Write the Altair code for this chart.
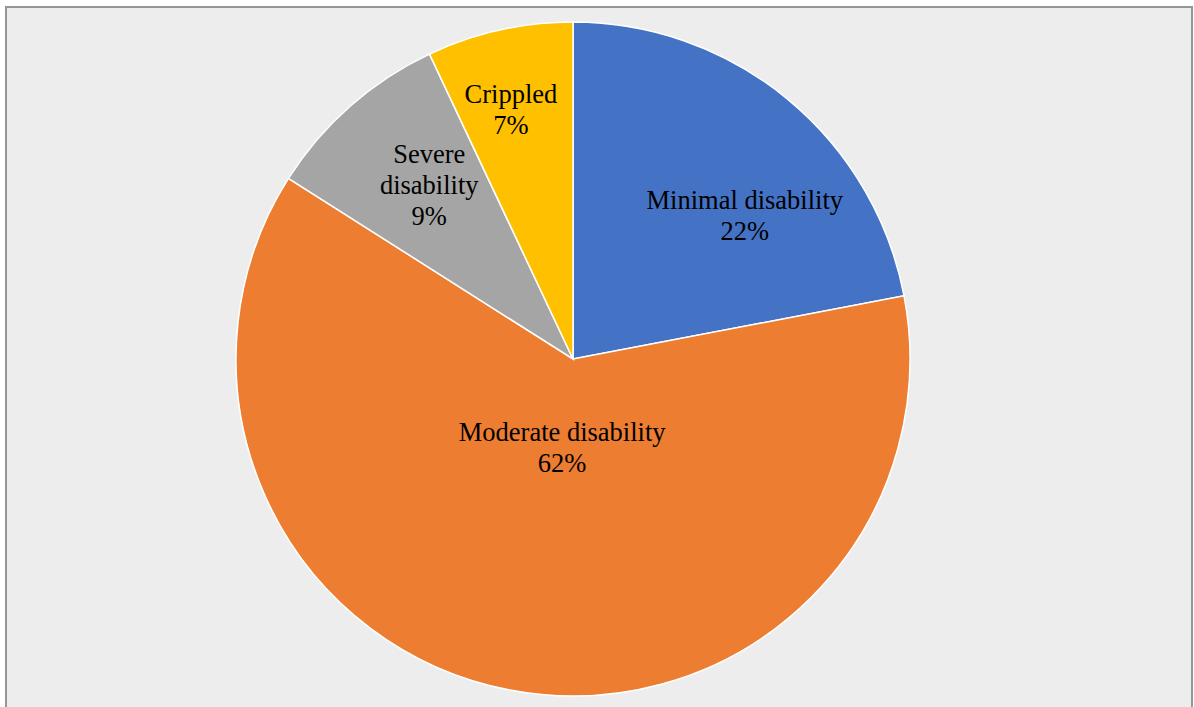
import math
import altair as alt
import pandas as pd

categories = ["Minimal disability", "Moderate disability", "Severe disability", "Crippled"]
values = [22, 62, 9, 7]
labels = ["Minimal disability\n22%", "Moderate disability\n62%", "Severe\ndisability\n9%", "Crippled\n7%"]
colors = ["#4472C4", "#ED7D31", "#A5A5A5", "#FFC000"]

df = pd.DataFrame({
    "category": categories,
    "value": values,
    "label": labels,
    "order": list(range(len(categories))),
})

CX, CY, R = 573, 359, 337
theta_scale = alt.Scale(domain=[0, 100], range=[0, 2 * math.pi])

base = (
    alt.Chart(df)
    .transform_window(cum="sum(value)", sort=[alt.SortField("order")], frame=[None, 0])
    .transform_calculate(start="datum.cum - datum.value", mid="datum.cum - datum.value / 2")
)

frame = alt.Chart(df).mark_rect(fill="#EDEDED", stroke="#969696", strokeWidth=2).encode(
    x=alt.value(6), x2=alt.value(1192), y=alt.value(7), y2=alt.value(730)
).transform_filter(alt.datum.order == 0)

arcs = base.mark_arc(radius=R, stroke="white", strokeWidth=1.5).encode(
    theta=alt.Theta("start:Q", scale=theta_scale),
    theta2="cum:Q",
    color=alt.Color("category:N", scale=alt.Scale(domain=categories, range=colors), legend=None),
    x=alt.value(CX),
    y=alt.value(CY),
)

label_style = {
    "Minimal disability": dict(radius=224, dx=29, dy=15),
    "Moderate disability": dict(radius=90, dx=6, dy=-14),
    "Severe disability": dict(radius=225, dx=5, dy=-35),
    "Crippled": dict(radius=257, dx=-6, dy=-13),
}

layers = [frame, arcs]
for c in categories:
    st = label_style[c]
    layers.append(
        base.transform_filter(alt.datum.category == c)
        .mark_text(
            font="Liberation Serif", fontSize=26.5, color="#000000", lineBreak="\n",
            align="center", baseline="middle", lineHeight=31, **st
        )
        .encode(
            theta=alt.Theta("mid:Q", scale=theta_scale),
            text="label:N",
            x=alt.value(CX),
            y=alt.value(CY),
        )
    )

chart = (
    alt.layer(*layers)
    .properties(width=1194, height=707, padding=0, autosize="none", background="white")
    .configure_view(stroke=None)
)

chart.save("out.html", embed_options={"renderer": "svg", "actions": False})
